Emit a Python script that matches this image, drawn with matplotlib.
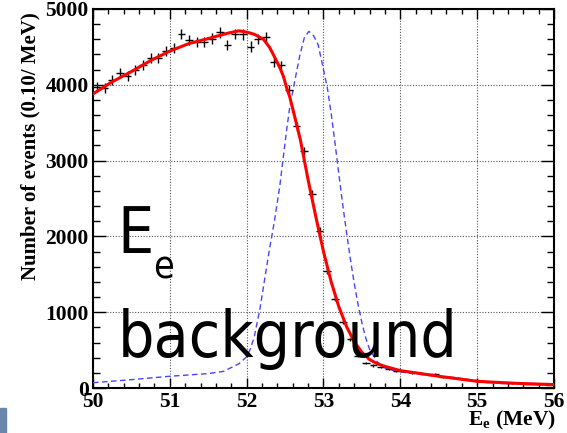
import numpy as np
import matplotlib
matplotlib.use('Agg')
import matplotlib.pyplot as plt
from matplotlib.patches import Rectangle

plt.rcParams['font.family'] = ['Liberation Serif', 'DejaVu Serif']
plt.rcParams['font.weight'] = 'bold'
plt.rcParams['mathtext.fontset'] = 'custom'
plt.rcParams['mathtext.rm'] = 'Liberation Serif:bold'
plt.rcParams['mathtext.bf'] = 'Liberation Serif:bold'

# histogram bin centres (0.1 MeV bins) and counts
e_bins = np.round(np.arange(50.05, 56.0, 0.1), 2)
counts = [3970, 3960, 4060, 4160, 4120, 4190, 4260, 4360, 4360, 4450,
          4480, 4670, 4590, 4560, 4560, 4610, 4690, 4525, 4670, 4665,
          4505, 4600, 4625, 4305, 4255, 3935, 3455, 3130, 2555, 2075,
          1545, 1180, 875, 640, 425, 330, 300, 280, 250, 225,
          220, 205, 195, 185, 180, 150, 140, 130, 115, 100,
          88, 82, 76, 70, 66, 62, 58, 55, 50, 46]

# fit curve (red)
fit_e = [50.0, 50.25, 50.5, 50.75, 51.0, 51.25, 51.5, 51.75, 51.9, 52.0,
         52.1, 52.22, 52.3, 52.35, 52.43, 52.48, 52.52, 52.56, 52.63, 52.7,
         52.8, 52.9, 53.0, 53.1, 53.2, 53.3, 53.4, 53.5, 53.6, 53.7,
         53.8, 54.0, 54.5, 55.0, 55.5, 56.0]
fit_n = [3880, 4040, 4175, 4320, 4445, 4545, 4610, 4680, 4712, 4695,
         4666, 4600, 4490, 4393, 4230, 4107, 3960, 3843, 3560, 3270,
         2744, 2260, 1800, 1400, 1070, 810, 610, 470, 375, 320,
         285, 229, 155, 88, 62, 45]

# signal shape (blue dashed)
sig_e = [50.0, 50.5, 51.0, 51.5, 51.7, 51.9, 52.0, 52.05, 52.1, 52.17,
         52.3, 52.36, 52.43, 52.52, 52.56, 52.63, 52.69, 52.75, 52.81, 52.87,
         52.93, 53.0, 53.05, 53.1, 53.15, 53.2, 53.25, 53.3, 53.35, 53.4,
         53.45, 53.5, 53.55, 53.6, 53.7, 53.8, 53.9, 54.0, 54.5, 55.0,
         55.5, 56.0]
sig_n = [70, 110, 155, 190, 220, 320, 413, 520, 680, 1029,
         1850, 2194, 2656, 3404, 3700, 4070, 4380, 4620, 4705, 4650,
         4530, 4200, 3960, 3620, 3230, 2820, 2420, 2050, 1700, 1380,
         1100, 860, 660, 510, 345, 265, 232, 212, 150, 88,
         60, 38]

fig = plt.figure(figsize=(5.67, 4.33), dpi=100)
ax = fig.add_axes([93/567, 1-388/433, 461/567, 379/433])

ax.plot(sig_e, sig_n, color='#4646ff', lw=1.0, ls=(0, (4, 2.5)), zorder=3)
ax.errorbar(e_bins, counts, xerr=0.05, yerr=np.sqrt(counts), fmt='none',
            ecolor='black', elinewidth=1.0, capsize=0, zorder=4)
ax.plot(fit_e, fit_n, color='#ff0000', lw=2.2, zorder=5)

ax.set_xlim(50, 56)
ax.set_ylim(0, 5000)
ax.set_xticks(range(50, 57))
ax.set_xticks(np.arange(50, 56.01, 0.2), minor=True)
ax.set_yticks(range(0, 5001, 1000))
ax.set_yticks(range(0, 5001, 200), minor=True)
ax.grid(True, which='major', color='#555555', ls=(0, (1, 1.5)), lw=0.8)
ax.set_axisbelow(True)

ax.tick_params(which='both', direction='in', top=True, right=True,
               labelsize=15.5, width=1.0)
ax.tick_params(axis='x', which='major', length=7, pad=3)
ax.tick_params(axis='x', which='minor', length=3.6)
ax.tick_params(axis='y', which='major', length=9.5, pad=3)
ax.tick_params(axis='y', which='minor', length=5)
for s in ax.spines.values():
    s.set_linewidth(1.5)

ax.set_ylabel('Number of events (0.10/ MeV)', fontsize=15, fontweight='bold')
ax.yaxis.set_label_coords(-0.113, 0.638)
ax.set_xlabel(r'E$_{\mathrm{e}}$ (MeV)', fontsize=15.5, fontweight='bold')
ax.xaxis.set_label_coords(1.004, -0.056)
ax.xaxis.label.set_ha('right')

big = ['DejaVu Sans Condensed', 'DejaVu Sans']
ax.text(0.052, 0.356, 'E', transform=ax.transAxes, fontsize=46,
        family=big, fontweight='normal', stretch='condensed', va='baseline')
ax.text(0.130, 0.288, 'e', transform=ax.transAxes, fontsize=27,
        family=big, fontweight='normal', stretch='condensed', va='baseline')
ax.text(0.054, 0.082, 'background', transform=ax.transAxes, fontsize=46,
        family=big, fontweight='normal', stretch='condensed', va='baseline',
        zorder=6)

fig.patches.append(Rectangle((0, 0), 6/567, 25/433, transform=fig.transFigure,
                             color='#6a86ad', zorder=0))

fig.savefig('out.png', dpi=100)
